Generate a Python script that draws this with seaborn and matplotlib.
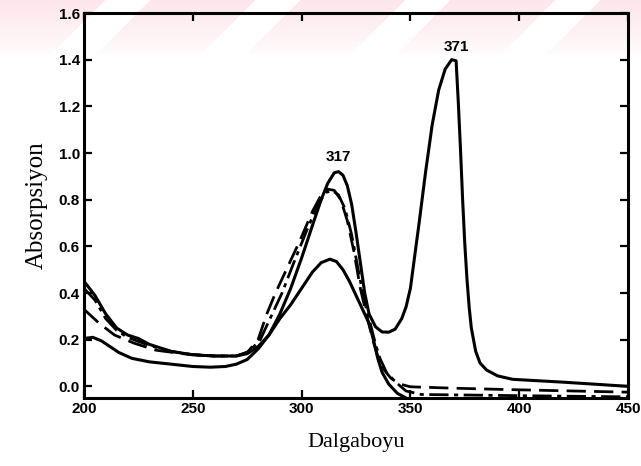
import numpy as np
import pandas as pd
import matplotlib
matplotlib.use("Agg")
import matplotlib.pyplot as plt
import seaborn as sns

# ---------------- data ----------------
a_x = [200, 205, 210, 215, 220, 225, 230, 240, 250, 260, 270, 275, 280, 285, 290, 295,
       300, 305, 309, 312, 315, 317, 319, 321, 323, 325, 327, 329, 331, 334, 337, 340,
       343, 346, 348, 350, 352, 354, 357, 360, 363, 366, 369, 371, 372, 373, 374, 375,
       376, 377, 378, 380, 382, 385, 390, 397, 420, 450]
a_y = [0.45, 0.39, 0.31, 0.25, 0.22, 0.205, 0.18, 0.15, 0.135, 0.13, 0.13, 0.14, 0.17, 0.22,
       0.31, 0.42, 0.55, 0.69, 0.80, 0.87, 0.915, 0.92, 0.905, 0.86, 0.78, 0.66, 0.53, 0.40,
       0.31, 0.255, 0.233, 0.232, 0.245, 0.29, 0.34, 0.42, 0.56, 0.70, 0.92, 1.12, 1.27, 1.36,
       1.40, 1.395, 1.22, 1.02, 0.80, 0.61, 0.46, 0.34, 0.25, 0.15, 0.10, 0.07, 0.045, 0.03,
       0.018, 0.0]

b_x = [200, 205, 210, 215, 220, 230, 240, 250, 260, 270, 276, 281, 286, 291, 296, 302,
       307, 311, 314, 317, 320, 323, 326, 329, 331, 334, 336, 339, 343, 348, 355, 400, 450]
b_y = [0.42, 0.37, 0.29, 0.24, 0.21, 0.175, 0.15, 0.135, 0.13, 0.13, 0.15, 0.20, 0.30, 0.40,
       0.52, 0.66, 0.77, 0.83, 0.84, 0.82, 0.76, 0.65, 0.50, 0.36, 0.29, 0.18, 0.12, 0.06,
       0.02, -0.02, -0.035, -0.04, -0.045]

c_x = [200, 207, 214, 223, 233, 245, 260, 270, 275, 280, 284, 288, 293, 299, 305, 309,
       312, 315, 318, 321, 324, 327, 330, 333, 335, 338, 341, 345, 350, 370, 400, 450]
c_y = [0.33, 0.27, 0.22, 0.185, 0.155, 0.14, 0.13, 0.13, 0.145, 0.20, 0.31, 0.40, 0.50,
       0.62, 0.75, 0.82, 0.845, 0.84, 0.80, 0.71, 0.58, 0.42, 0.30, 0.19, 0.13, 0.07, 0.035,
       0.01, -0.002, -0.008, -0.015, -0.025]

d_x = [200, 204, 208, 212, 216, 222, 230, 240, 250, 258, 265, 270, 275, 280, 285, 290,
       295, 300, 305, 309, 313, 316, 319, 322, 325, 328, 331, 333, 335, 337, 340, 344, 348]
d_y = [0.205, 0.21, 0.195, 0.17, 0.145, 0.12, 0.105, 0.095, 0.085, 0.082, 0.085, 0.095,
       0.115, 0.16, 0.22, 0.29, 0.35, 0.42, 0.49, 0.53, 0.545, 0.535, 0.50, 0.45, 0.39,
       0.33, 0.27, 0.20, 0.12, 0.06, 0.01, -0.03, -0.05]

x_ticks = [200, 250, 300, 350, 400, 450]
y_ticks = [0.0, 0.2, 0.4, 0.6, 0.8, 1.0, 1.2, 1.4, 1.6]
peak_labels = ["317", "371"]
peak_x = [317, 371]
peak_y = [0.985, 1.455]

# ---------------- figure ----------------
sns.set_theme(style="ticks")
plt.rcParams["text.color"] = "black"
plt.rcParams["axes.labelcolor"] = "black"
W, H, DPI = 641, 466, 100
fig = plt.figure(figsize=(W / DPI, H / DPI), dpi=DPI)
fig.patch.set_facecolor("white")

# faint pink diagonal watermark band at the top (decoration)
bg = fig.add_axes([0, 0, 1, 1], zorder=-5)
yy, xx = np.mgrid[0:H, 0:W]
img = np.ones((H, W, 4))
pink = np.array([0.992, 0.905, 0.925])
stripe = ((xx + yy) % 150) < 105
fade = np.clip(1 - yy / 55.0, 0, 1) ** 0.7
alpha = np.where(stripe, fade, 0.0)
img[..., :3] = 1 - alpha[..., None] * (1 - pink)
img[..., 3] = 1
bg.imshow(img, aspect="auto", extent=[0, 1, 0, 1], origin="upper")
bg.set_axis_off()

ax = fig.add_axes([84 / W, 1 - 398 / H, (628 - 84) / W, (398 - 13) / H])
ax.set_facecolor("none")

lw = 2.2
df_a = pd.DataFrame({"x": a_x, "y": a_y})
df_b = pd.DataFrame({"x": b_x, "y": b_y})
df_c = pd.DataFrame({"x": c_x, "y": c_y})
df_d = pd.DataFrame({"x": d_x, "y": d_y})

sns.lineplot(data=df_a, x="x", y="y", ax=ax, color="black", lw=lw, sort=False)
sns.lineplot(data=df_b, x="x", y="y", ax=ax, color="black", lw=lw * 0.9, sort=False,
             linestyle=(0, (7, 2, 1.5, 2)))
sns.lineplot(data=df_c, x="x", y="y", ax=ax, color="black", lw=lw * 0.9, sort=False,
             linestyle=(0, (7, 3)))
sns.lineplot(data=df_d, x="x", y="y", ax=ax, color="black", lw=lw, sort=False)

for lab, px, py in zip(peak_labels, peak_x, peak_y):
    ax.text(px, py, lab, ha="center", va="center", fontsize=11, fontweight="bold",
            family="Liberation Sans", color="black")

ax.set_xlim(200, 450)
ax.set_ylim(-0.05, 1.6)
ax.set_xticks(x_ticks)
ax.set_yticks(y_ticks)
ax.set_xticklabels([str(v) for v in x_ticks], fontsize=11, fontweight="bold",
                   family="Liberation Sans", color="black")
ax.set_yticklabels([f"{v:.1f}" for v in y_ticks], fontsize=11, fontweight="bold",
                   family="Liberation Sans", color="black")
ax.tick_params(direction="in", length=6, width=1.6, top=True, right=True,
               labeltop=False, labelright=False, pad=3, colors="black")
for s in ax.spines.values():
    s.set_linewidth(2.2)
    s.set_color("black")

ax.set_xlabel("Dalgaboyu", fontsize=16, family="Liberation Serif", labelpad=12,
              color="black")
ax.set_ylabel("Absorpsiyon", fontsize=18, family="Liberation Serif", labelpad=8,
              color="black")

fig.savefig("out.png", dpi=DPI)
